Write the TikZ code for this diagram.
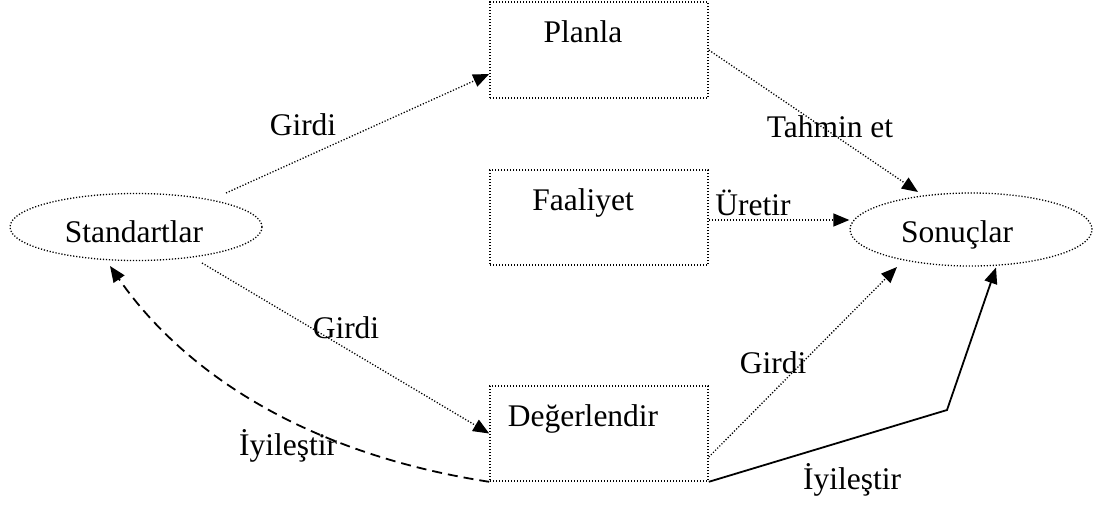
\documentclass[tikz,border=0pt]{standalone}
\usepackage{fontspec}
\setmainfont{Liberation Serif}
\usetikzlibrary{shapes.geometric,arrows.meta,calc}
\begin{document}
\begin{tikzpicture}[x=1pt,y=-1pt,
  every node/.style={font=\fontsize{31.5}{37}\selectfont},
  txt/.style={anchor=base,inner sep=0pt},
  boxshape/.style={draw,line width=1.6pt,dash pattern=on 1.4pt off 1.6pt,minimum width=218pt,inner sep=0pt},
  ellshape/.style={draw,ellipse,line width=1.3pt,dash pattern=on 1.2pt off 1.8pt,inner sep=0pt},
  tip/.style={-{Triangle[length=16pt,width=13pt]}},
  dotline/.style={tip,line width=1.3pt,dash pattern=on 1.2pt off 1.8pt},
  dashline/.style={tip,line width=1.8pt,dash pattern=on 10pt off 6pt},
  solidline/.style={tip,line width=1.8pt}]
\useasboundingbox (0,0) rectangle (1100,504);
% shapes
\node[boxshape,minimum height=96pt] (P) at (599,50) {};
\node[boxshape,minimum height=95pt] (F) at (599,217.5) {};
\node[boxshape,minimum height=95pt] (D) at (599,433.5) {};
\node[ellshape,minimum width=252pt,minimum height=67pt] (S) at (136,227) {};
\node[ellshape,minimum width=242pt,minimum height=73pt] (So) at (971,229.5) {};
% texts
\node[txt] (Pt) at (583,42) {Planla};
\node[txt] (Ft) at (583,210) {Faaliyet};
\node[txt] (Dt) at (583,426) {Değerlendir};
\node[txt] (St) at (134,242) {Standartlar};
\node[txt] (Sot) at (957,242) {Sonuçlar};
% connectors
\coordinate (s1) at ($(S)+(90,-34)$);
\draw[dotline] (s1) -- ($(P.west)+(0,24)$);
\draw[dotline] (P.east) -- ($(So)+(-53,-37.5)$);
\coordinate (fs) at ($(F.east)+(0,2.5)$);
\draw[dotline] (fs) -- (fs -| So.west);
\draw[dotline] ($(S)+(66,36)$) -- (D.west);
\draw[dotline] ($(D.east)+(0,23.5)$) -- ($(So)+(-74,37.5)$);
\draw[dashline] (D.south west) .. controls ($(D.south west)+(-200,-31)$) and ($(S)+(39,133)$) .. ($(S)+(-26,39)$);
\coordinate (corner) at (947,410);
\draw[solidline] (D.south east) -- (corner) -- ($(So)+(25,38)$);
% labels
\node[txt] (l1) at (303,135) {Girdi};
\node[txt] (l2) at (830,137) {Tahmin et};
\node[txt] (l3) at (753,215) {Üretir};
\node[txt] (l4) at (346,338) {Girdi};
\node[txt] (l5) at (773,373) {Girdi};
\node[txt] (l6) at (288,455) {İyileştir};
\node[txt] (l7) at (852,489) {İyileştir};
\end{tikzpicture}
\end{document}
